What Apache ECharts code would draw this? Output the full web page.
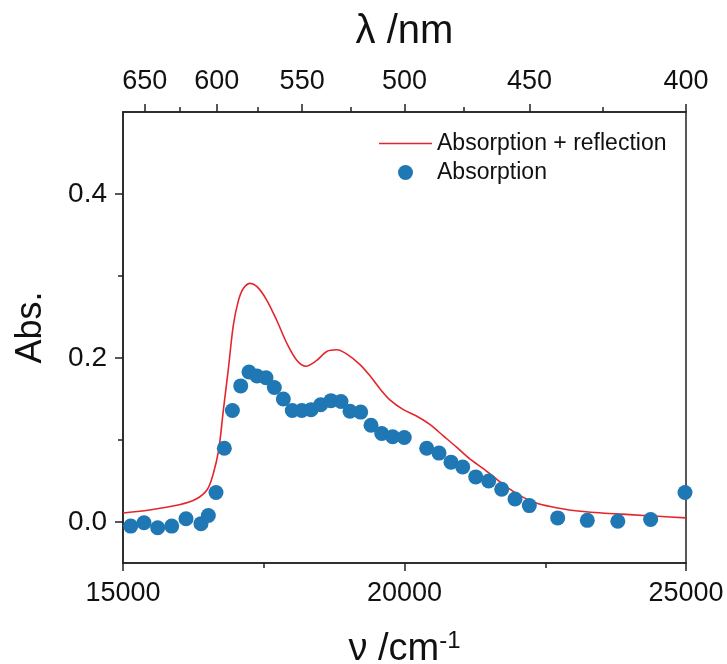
<!DOCTYPE html>
<html><head><meta charset="utf-8">
<script src="https://cdn.jsdelivr.net/npm/echarts@6/dist/echarts.min.js"></script>
<style>html,body{margin:0;padding:0;background:#fff}#c{width:727px;height:664px}</style>
</head><body><div id="c"></div>
<script>
// Wavenumber (cm^-1) and absorbance for "Absorption + reflection" (line)
const lineX = [15000,15500,16000,16300,16500,16600,16700,16780,16870,16960,17050,17140,17260,17380,17550,17730,17910,18090,18250,18440,18620,18800,18970,19210,19390,19570,19740,19980,20220,20450,20690,20930,21160,21400,21640,21870,22110,22350,22590,23000,23500,24000,24500,25000];
const lineY = [0.011,0.015,0.021,0.028,0.040,0.058,0.088,0.135,0.186,0.240,0.270,0.285,0.291,0.287,0.271,0.246,0.218,0.197,0.190,0.197,0.208,0.210,0.205,0.192,0.178,0.162,0.149,0.137,0.129,0.119,0.105,0.091,0.077,0.065,0.052,0.040,0.030,0.023,0.019,0.014,0.011,0.009,0.007,0.005];
// "Absorption" points
const dotX = [15137,15373,15616,15865,16119,16385,16516,16652,16800,16943,17091,17238,17380,17540,17688,17848,18007,18175,18340,18511,18694,18872,19032,19222,19405,19595,19790,19996,20394,20613,20826,21034,21265,21495,21726,21963,22217,22721,23247,23789,24372,24982];
const dotY = [-0.005,-0.001,-0.007,-0.005,0.004,-0.002,0.008,0.036,0.090,0.136,0.166,0.183,0.178,0.176,0.164,0.150,0.136,0.136,0.137,0.143,0.148,0.147,0.135,0.134,0.118,0.108,0.104,0.103,0.090,0.084,0.073,0.067,0.055,0.050,0.040,0.028,0.020,0.005,0.002,0.001,0.003,0.036];
// Tick labels
const wlMajor = [650,600,550,500,450,400];
const wlMinor = [625,575,525,475,425];
const absMajor = [0,0.2,0.4];
const absMinor = [0.1,0.3];

const FONT = 'Liberation Sans';
const axisColor = '#222';
const lineData = lineX.map((x,i)=>[x,lineY[i]]);
const dotData = dotX.map((x,i)=>[x,dotY[i]]);
const toWn = l => 1e7/l;

const chart = echarts.init(document.getElementById('c'), null, {renderer:'canvas'});
chart.setOption({
  animation:false,
  backgroundColor:'#fff',
  grid:{left:123,right:41,top:112,bottom:101,containLabel:false,outerBoundsMode:'none',
        show:true,borderColor:axisColor,borderWidth:1.5,backgroundColor:'transparent'},
  legend:{
    orient:'vertical', left:374, top:127, itemWidth:53, itemHeight:15, itemGap:6,
    textStyle:{fontFamily:FONT,fontSize:23,color:'#111'},
    data:[{name:'Absorption + reflection',icon:'path://M0,0L60,0L60,1.8L0,1.8Z'},{name:'Absorption',icon:'circle'}]
  },
  xAxis:[
    {type:'value',position:'bottom',min:15000,max:25000,interval:5000,
     name:'{a|ν /cm}{s|-1}',nameLocation:'middle',nameGap:66,
     nameTextStyle:{rich:{a:{fontFamily:FONT,fontSize:38,color:'#111',verticalAlign:'bottom',lineHeight:40},s:{fontFamily:FONT,fontSize:24,color:'#111',verticalAlign:'top',padding:[0,0,16,0],lineHeight:40}}},
     axisLine:{show:true,onZero:false,lineStyle:{color:axisColor,width:1.5}},
     axisTick:{show:true,length:8,lineStyle:{color:axisColor,width:1.5}},
     minorTick:{show:true,splitNumber:2,length:5,lineStyle:{color:axisColor,width:1.5}},
     axisLabel:{fontFamily:FONT,fontSize:27,color:'#111',margin:17,formatter:v=>String(v)},
     splitLine:{show:false}},
    {type:'value',position:'top',min:15000,max:25000,
     name:'λ /nm',nameLocation:'middle',nameGap:60,
     nameTextStyle:{fontFamily:FONT,fontSize:40,color:'#111'},
     axisLine:{show:true,onZero:false,lineStyle:{color:axisColor,width:1.5}},
     axisTick:{show:true,length:8,customValues:wlMajor.map(toWn),lineStyle:{color:axisColor,width:1.5}},
     axisLabel:{fontFamily:FONT,fontSize:27,color:'#111',margin:17,customValues:wlMajor.map(toWn),
       formatter:v=>String(Math.round(1e7/v))},
     splitLine:{show:false}},
    {type:'value',position:'top',min:15000,max:25000,
     axisLine:{show:false,onZero:false},
     axisTick:{show:true,length:5,customValues:wlMinor.map(toWn),lineStyle:{color:axisColor,width:1.5}},
     axisLabel:{show:false,customValues:wlMinor.map(toWn)},
     splitLine:{show:false}}
  ],
  yAxis:[
    {type:'value',min:-0.05,max:0.5,
     name:'Abs.',nameLocation:'middle',nameGap:74,
     nameTextStyle:{fontFamily:FONT,fontSize:36,color:'#111',padding:[0,0,0,20]},
     axisLine:{show:true,onZero:false,lineStyle:{color:axisColor,width:1.5}},
     axisTick:{show:true,length:8,customValues:absMajor,lineStyle:{color:axisColor,width:1.5}},
     axisLabel:{fontFamily:FONT,fontSize:28,color:'#111',margin:16,customValues:absMajor,
       formatter:v=>v.toFixed(1)},
     splitLine:{show:false}},
    {type:'value',min:-0.05,max:0.5,position:'left',
     axisLine:{show:false,onZero:false},
     axisTick:{show:true,length:5,customValues:absMinor,lineStyle:{color:axisColor,width:1.5}},
     axisLabel:{show:false,customValues:absMinor},
     splitLine:{show:false}}
  ],
  series:[
    {name:'Absorption + reflection',type:'line',xAxisIndex:0,yAxisIndex:0,data:lineData,
     symbol:'none',smooth:0.3,lineStyle:{color:'#e3262c',width:1.6},itemStyle:{color:'#e3262c'},z:2},
    {name:'Absorption',type:'scatter',xAxisIndex:0,yAxisIndex:0,data:dotData,
     symbol:'circle',symbolSize:15,itemStyle:{color:'#1f77b4',opacity:1},z:3}
  ]
});
</script></body></html>
